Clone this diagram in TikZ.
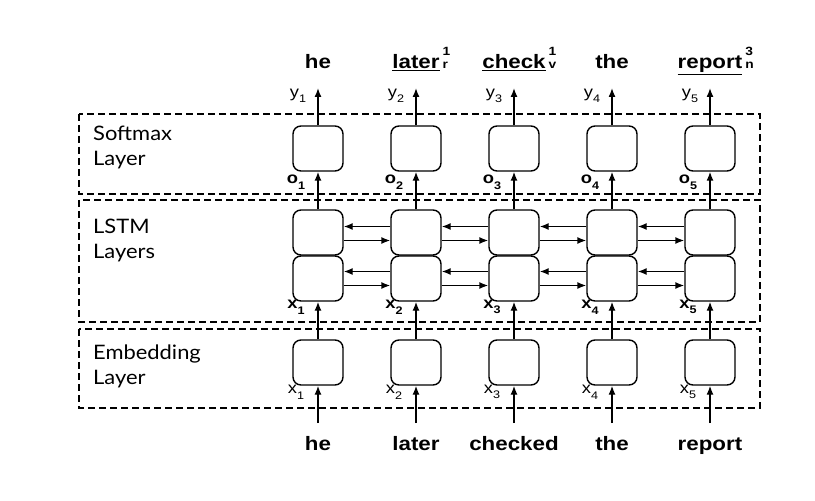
\documentclass[tikz,border=0pt]{standalone}
\usepackage{fontspec}
\setmainfont{Liberation Sans}
\newfontfamily\layerfont{Lato}[FakeStretch=1.1]
\newfontfamily\wordfont{Liberation Sans}[FakeStretch=1.15]
\usetikzlibrary{arrows.meta}

\newcommand\lowidx[1]{\raisebox{-0.35em}{\fontsize{11}{11}\selectfont #1}}
\newcommand\sense[3]{\underline{#1}\rlap{\hspace{3bp}\fontsize{12}{12}\selectfont\rlap{\raisebox{13bp}{#2}}#3}}

\begin{document}
\begin{tikzpicture}[x=1bp,y=-1bp,
  cell/.style={draw, line width=1.4bp, rounded corners=8bp,
    minimum width=50bp, minimum height=45bp, inner sep=0pt},
  layerbox/.style={draw, line width=1.3bp, dash pattern=on 7bp off 4bp},
  flow/.style={-{Latex[length=9bp,width=7bp]}, line width=1.4bp},
  word/.style={font=\wordfont\fontsize{19.5}{22}\selectfont\bfseries, anchor=base, inner sep=0pt},
  layername/.style={font=\layerfont\fontsize{20}{25}\selectfont, align=left,
    anchor=north west, inner sep=0pt},
  var/.style={font=\wordfont\fontsize{16}{18}\selectfont, inner sep=0pt},
  boldvar/.style={font=\wordfont\fontsize{16}{18}\selectfont\bfseries, inner sep=0pt}
  ]
  \useasboundingbox (0,0) rectangle (815,501);

  % layers
  \draw[layerbox] (79,114) rectangle (760,194);
  \draw[layerbox] (79,200) rectangle (760,322);
  \draw[layerbox] (79,329) rectangle (760,408);
  \node[layername] (softmax) at (93,126) {Softmax\\Layer};
  \node[layername] (lstm) at (93,219) {LSTM\\Layers};
  \node[layername] (embed) at (93,345) {Embedding\\Layer};

  % columns
  \foreach \i in {1,...,5} {
    \pgfmathsetmacro\cx{318+98*(\i-1)}
    \node[cell] (s\i) at (\cx,148.5) {};
    \node[cell] (u\i) at (\cx,232.5) {};
    \node[cell] (l\i) at (\cx,278.5) {};
    \node[cell] (e\i) at (\cx,362.5) {};
    \coordinate (out\i) at (\cx,88);
    \coordinate (in\i) at (\cx,423);
    \node[var] (y\i) at (\cx-20,96) {y\lowidx{\i}};
    \node[boldvar] (o\i) at (\cx-22,182) {o\lowidx{\i}};
    \node[boldvar] (h\i) at (\cx-22,307) {x\lowidx{\i}};
    \node[var] (x\i) at (\cx-22,392) {x\lowidx{\i}};
    \draw[flow] (in\i) -- (e\i.south);
    \draw[flow] (e\i.north) -- (l\i.south);
    \draw[flow] (u\i.north) -- (s\i.south);
    \draw[flow] (s\i.north) -- (out\i);
  }

  % recurrent links
  \foreach \i [count=\j from 2] in {1,...,4} {
    \draw[flow] ([yshift=6bp]u\j.west) -- ([yshift=6bp]u\i.east);
    \draw[flow] ([yshift=-8bp]u\i.east) -- ([yshift=-8bp]u\j.west);
    \draw[flow] ([yshift=7bp]l\j.west) -- ([yshift=7bp]l\i.east);
    \draw[flow] ([yshift=-7bp]l\i.east) -- ([yshift=-7bp]l\j.west);
  }

  % words
  \foreach \i/\t in {1/he, 2/{\sense{later}{1}{r}}, 3/{\sense{check}{1}{v}},
    4/the, 5/{\sense{report}{3}{n}}}
    \node[word] (t\i) at ({318+98*(\i-1)},69) {\t};
  \foreach \i/\t in {1/he, 2/later, 3/checked, 4/the, 5/report}
    \node[word] (b\i) at ({318+98*(\i-1)},450) {\t};
\end{tikzpicture}
\end{document}
